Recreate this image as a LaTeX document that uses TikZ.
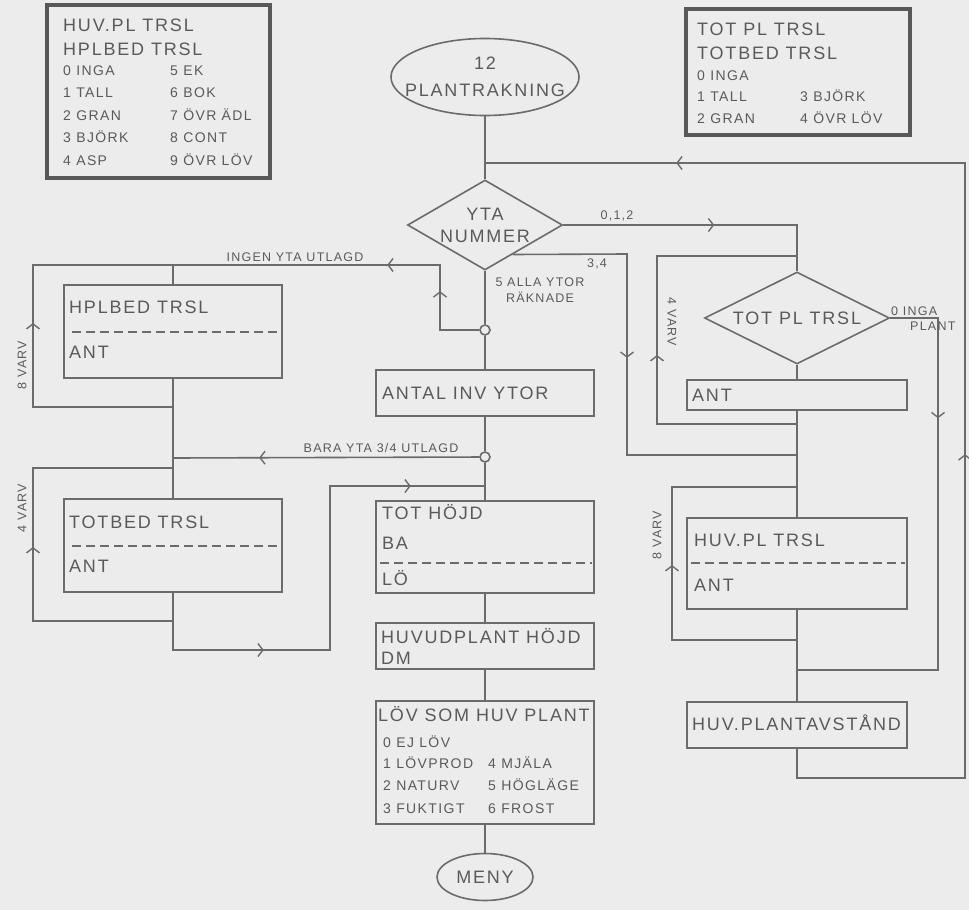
\documentclass[tikz,border=0pt]{standalone}
\usepackage{fontspec}
\newfontfamily\plotter[LetterSpace=10]{Liberation Sans}
\newcommand{\grossschrift}{\plotter\fontsize{18}{22}\selectfont}
\newcommand{\kleinschrift}{\plotter\fontsize{14}{16}\selectfont}
\newcommand{\minischrift}{\plotter\fontsize{12.5}{14}\selectfont}
\definecolor{linjegrau}{HTML}{6B6B6B}
\definecolor{legendgrau}{HTML}{585858}
\definecolor{textgrau}{HTML}{5A5A5A}
\definecolor{papier}{HTML}{ECECEC}
\usetikzlibrary{shapes.geometric, arrows.meta, decorations.markings, calc}

\begin{document}
\begin{tikzpicture}[x=1pt, y=-1pt,
					>={Straight Barb[length=5pt,width=13pt]},   %Pfeilspitzen
					linie/.style={draw=linjegrau, line width=1.6pt},
					kasten/.style={draw=linjegrau, line width=1.6pt, rectangle, inner sep=0pt},
					legende/.style={draw=legendgrau, line width=4.5pt, rectangle, inner sep=0pt},
					raute/.style={diamond, draw=linjegrau, line width=1.6pt, inner sep=0pt, font=\grossschrift, text=textgrau, align=center},
					oval/.style={ellipse, draw=linjegrau, line width=1.6pt, inner sep=0pt, font=\grossschrift, text=textgrau, align=center},
					titel/.style={font=\grossschrift, text=textgrau, inner sep=0pt, anchor=west, text height=13pt, text depth=0pt},
					zeile/.style={font=\kleinschrift, text=textgrau, inner sep=0pt, anchor=west, text height=10pt, text depth=0pt},
					notiz/.style={font=\minischrift, text=textgrau, inner sep=0pt},
					punkt/.style={circle, draw=linjegrau, line width=1.6pt, fill=papier, minimum size=10pt, inner sep=0pt},
					trenn/.style={draw=linjegrau, line width=1.4pt, dash pattern=on 9pt off 5pt},
					pil/.style={postaction={decorate, decoration={markings, mark=at position #1 with {\arrow[linjegrau, line width=1.4pt]{>}}}}}]
	%Hintergrund
	\fill[papier] (0,0) rectangle (969,910);
	\useasboundingbox (0,0) rectangle (969,910);
	% Legenden zeichnen
	\node[legende, minimum width=223pt, minimum height=173pt] (leg1) at (158.5,91.5) {};
	\node[titel] (leg1-t1) at (63,25) {HUV.PL TRSL};
	\node[titel] (leg1-t2) at (63,49) {HPLBED TRSL};
	\foreach \a/\b [count=\i from 0] in {0 INGA/5 EK, 1 TALL/6 BOK, 2 GRAN/7 ÖVR ÄDL, 3 BJÖRK/8 CONT, 4 ASP/9 ÖVR LÖV}{
		\node[zeile] (leg1-a\i) at (63,{70+22.5*\i}) {\a};
		\node[zeile] (leg1-b\i) at (170,{70+22.5*\i}) {\b};
	}
	\node[legende, minimum width=224pt, minimum height=126pt] (leg2) at (798,72) {};
	\node[titel] (leg2-t1) at (697,29) {TOT PL TRSL};
	\node[titel] (leg2-t2) at (697,53) {TOTBED TRSL};
	\node[zeile] (leg2-a0) at (697,75) {0 INGA};
	\foreach \a/\b [count=\i] in {1 TALL/3 BJÖRK, 2 GRAN/4 ÖVR LÖV}{
		\node[zeile] (leg2-a\i) at (697,{75+21.5*\i}) {\a};
		\node[zeile] (leg2-b\i) at (800,{75+21.5*\i}) {\b};
	}
	% Mittlere Spalte
	\node[oval, inner xsep=-14pt, minimum width=188pt, minimum height=77pt] (start) at (485,77) {12\\[5pt]PLANTRAKNING};
	\node[raute, aspect=1.72, minimum width=155pt, minimum height=90pt] (yta) at (485,225) {YTA\\NUMMER};
	\node[punkt] (c1) at (485,330) {};
	\node[kasten, minimum width=218pt, minimum height=46pt] (antal) at (485,393) {};
	\node[titel] (antal-t) at (382,393) {ANTAL INV YTOR};
	\node[punkt] (c2) at (485,457) {};
	\node[kasten, minimum width=218pt, minimum height=92pt] (toth) at (485,547) {};
	\node[titel] (toth-t1) at (382,513) {TOT HÖJD};
	\node[titel] (toth-t2) at (382,543) {BA};
	\draw[trenn] (380,563) -- (592,563);
	\node[titel] (toth-t3) at (382,579) {LÖ};
	\node[kasten, minimum width=218pt, minimum height=46pt] (huvh) at (485,646) {};
	\node[titel] (huvh-t1) at (381,637) {HUVUDPLANT HÖJD};
	\node[titel] (huvh-t2) at (381,658) {DM};
	\node[kasten, minimum width=218pt, minimum height=123pt] (lov) at (485,762.5) {};
	\node[titel] (lov-t) at (378,715) {LÖV SOM HUV PLANT};
	\node[zeile] (lov-a0) at (383,742) {0 EJ LÖV};
	\foreach \a/\b/\y [count=\i] in {1 LÖVPROD/4 MJÄLA/763, 2 NATURV/5 HÖGLÄGE/785, 3 FUKTIGT/6 FROST/808}{
		\node[zeile] (lov-a\i) at (383,\y) {\a};
		\node[zeile] (lov-b\i) at (488,\y) {\b};
	}
	\node[oval, minimum width=96pt, minimum height=47pt] (meny) at (485,877) {MENY};
	% Linke Spalte
	\node[kasten, minimum width=218pt, minimum height=93pt] (hplbed) at (173,331.5) {};
	\node[titel] (hplbed-t1) at (69,307) {HPLBED TRSL};
	\draw[trenn] (72,332) -- (281,332);
	\node[titel] (hplbed-t2) at (69,352) {ANT};
	\node[kasten, minimum width=218pt, minimum height=93pt] (totbed) at (173,545.5) {};
	\node[titel] (totbed-t1) at (69,522) {TOTBED TRSL};
	\draw[trenn] (72,546) -- (281,546);
	\node[titel] (totbed-t2) at (69,566) {ANT};
	% Rechte Spalte
	\node[raute, aspect=2.01, minimum width=185pt, minimum height=92pt] (tottrsl) at (797,318) {TOT PL TRSL};
	\node[kasten, minimum width=220pt, minimum height=30pt] (ant) at (797,395) {};
	\node[titel] (ant-t) at (692,395) {ANT};
	\node[kasten, minimum width=220pt, minimum height=91pt] (huvpl) at (797,563.5) {};
	\node[titel] (huvpl-t1) at (694,540) {HUV.PL TRSL};
	\draw[trenn] (691,563) -- (905,563);
	\node[titel] (huvpl-t2) at (694,585) {ANT};
	\node[kasten, minimum width=220pt, minimum height=46pt] (huvavst) at (797,725) {};
	\node[titel] (huvavst-t) at (692,724) {HUV.PLANTAVSTÅND};
	% Hilfspunkte
	\coordinate (r-ein) at (485,163);
	\coordinate (r-ecke1) at (797,778);
	\coordinate (r-ecke2) at (965,778);
	\coordinate (r-ecke3) at (965,163);
	\coordinate (e012) at (797,225);
	\coordinate (a34) at ($(yta.east)!0.644!(yta.south)$);
	\coordinate (e34a) at (627,254);
	\coordinate (e34b) at (627,455);
	\coordinate (e34c) at (797,455);
	\coordinate (i1) at (440,330);
	\coordinate (i2) at (440,265);
	\coordinate (i3) at (173,265);
	\coordinate (s8a) at (173,407);
	\coordinate (s8b) at (33,407);
	\coordinate (s8c) at (33,265);
	\coordinate (b1) at (173,458);
	\coordinate (s4a) at (173,621);
	\coordinate (s4b) at (33,621);
	\coordinate (s4c) at (33,468);
	\coordinate (s4d) at (173,468);
	\coordinate (t1) at (173,650);
	\coordinate (t2) at (330,650);
	\coordinate (t3) at (330,486);
	\coordinate (t4) at (485,486);
	\coordinate (v4a) at (797,424);
	\coordinate (v4b) at (657,424);
	\coordinate (v4c) at (657,256);
	\coordinate (v4d) at (797,256);
	\coordinate (v8a) at (797,640);
	\coordinate (v8b) at (672,640);
	\coordinate (v8c) at (672,487);
	\coordinate (v8d) at (797,487);
	\coordinate (n1) at (938,318);
	\coordinate (n2) at (938,670);
	\coordinate (n3) at (797,670);
	% Verbindungen zeichnen
	\draw[linie] (start) -- (yta);
	\draw[linie, pil=521pt, pil=1101pt] (huvavst) -- (r-ecke1) -- (r-ecke2) -- (r-ecke3) -- (r-ein);
	\draw[linie, pil=151pt] (yta.east) -- (e012) -- (tottrsl);
	\draw[linie, pil=218pt] (a34) -- (e34a) -- (e34b) -- (e34c);
	\draw[linie] (yta) -- (c1);
	\draw[linie, pil=78pt, pil=157pt] (c1) -- (i1) -- (i2) -- (i3) -- (hplbed);
	\draw[linie, pil=224pt] (s8a) -- (s8b) -- (s8c) -- (i3);
	\draw[linie] (hplbed) -- (totbed);
	\draw[linie, pil=220pt] (c2) -- (b1);
	\draw[linie, pil=214pt] (s4a) -- (s4b) -- (s4c) -- (s4d);
	\draw[linie, pil=148pt, pil=459pt] (totbed) -- (t1) -- (t2) -- (t3) -- (t4);
	\draw[linie] (c1) -- (antal);
	\draw[linie] (antal) -- (c2);
	\draw[linie] (c2) -- (toth);
	\draw[linie] (toth) -- (huvh);
	\draw[linie] (huvh) -- (lov);
	\draw[linie] (lov) -- (meny);
	\draw[linie] (tottrsl) -- (ant);
	\draw[linie] (ant) -- (huvpl);
	\draw[linie] (huvpl) -- (huvavst);
	\draw[linie, pil=209pt] (v4a) -- (v4b) -- (v4c) -- (v4d);
	\draw[linie, pil=200pt] (v8a) -- (v8b) -- (v8c) -- (v8d);
	\draw[linie, pil=148pt] (tottrsl) -- (n1) -- (n2) -- (n3);
	% Beschriftung
	\node[notiz] (l012) at (617,216) {0,1,2};
	\node[notiz] (l34) at (597,264) {3,4};
	\node[notiz, align=center] (l5) at (540,290) {5 ALLA YTOR\\[2pt]RÄKNADE};
	\node[notiz] (lingen) at (295,257) {INGEN YTA UTLAGD};
	\node[notiz] (lbara) at (381,448) {BARA YTA 3/4 UTLAGD};
	\node[notiz, anchor=west] (l0a) at (891,311) {0 INGA};
	\node[notiz, anchor=west] (l0b) at (910,326) {PLANT};
	\node[notiz, rotate=90] (v8l) at (22,365) {8 VARV};
	\node[notiz, rotate=90] (v4l) at (22,508) {4 VARV};
	\node[notiz, rotate=-90] (v4r) at (672,322) {4 VARV};
	\node[notiz, rotate=90] (v8r) at (657,535) {8 VARV};
\end{tikzpicture}
\end{document}
